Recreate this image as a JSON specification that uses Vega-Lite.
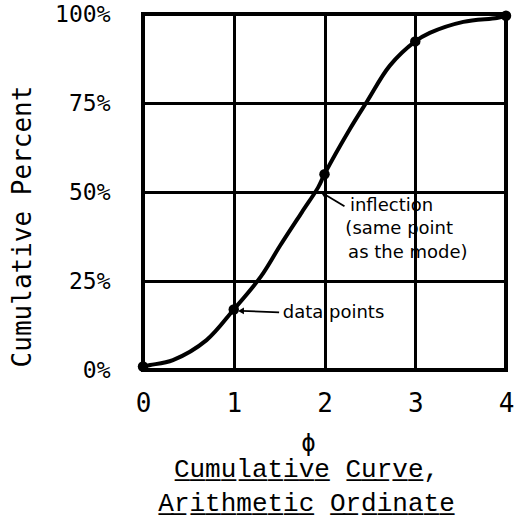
{
  "$schema": "https://vega.github.io/schema/vega-lite/v6.json",
  "width": 363,
  "height": 356,
  "autosize": "none",
  "padding": {"left": 143, "top": 14, "right": 11, "bottom": 153},
  "background": "white",
  "title": {
    "text": ["C\u0332u\u0332m\u0332u\u0332l\u0332a\u0332t\u0332i\u0332v\u0332e\u0332 C\u0332u\u0332r\u0332v\u0332e\u0332,", "A\u0332r\u0332i\u0332t\u0332h\u0332m\u0332e\u0332t\u0332i\u0332c\u0332 O\u0332r\u0332d\u0332i\u0332n\u0332a\u0332t\u0332e\u0332"],
    "orient": "bottom",
    "anchor": "middle",
    "font": "Liberation Mono",
    "fontSize": 26,
    "fontWeight": "normal",
    "lineHeight": 34,
    "color": "black",
    "offset": 1,
    "dx": -18
  },
  "datasets": {
    "curve": [
      {"phi": 0.0, "p": 1.0},
      {"phi": 0.08, "p": 1.4},
      {"phi": 0.33, "p": 2.8},
      {"phi": 0.7, "p": 8.4},
      {"phi": 1.0, "p": 17.0},
      {"phi": 1.3, "p": 26.3},
      {"phi": 1.51, "p": 34.9},
      {"phi": 1.75, "p": 44.3},
      {"phi": 1.93, "p": 51.3},
      {"phi": 2.0, "p": 55.0},
      {"phi": 2.28, "p": 67.7},
      {"phi": 2.47, "p": 75.5},
      {"phi": 2.72, "p": 85.5},
      {"phi": 3.0, "p": 92.3},
      {"phi": 3.16, "p": 94.7},
      {"phi": 3.53, "p": 97.8},
      {"phi": 3.9, "p": 98.9},
      {"phi": 4.0, "p": 99.5}
    ],
    "points": [
      {"phi": 0, "p": 1.0},
      {"phi": 1, "p": 17.0},
      {"phi": 2, "p": 55.0},
      {"phi": 3, "p": 92.3},
      {"phi": 4, "p": 99.5}
    ],
    "notes": [
      {"phi": 2.28, "p": 46.0, "label": "inflection"},
      {"phi": 2.23, "p": 39.5, "label": "(same point"},
      {"phi": 2.26, "p": 33.0, "label": "as the mode)"},
      {"phi": 1.54, "p": 16.0, "label": "data points"}
    ],
    "arrows": [
      {"phi": 2.22, "p": 46.0, "phi2": 1.99, "p2": 49.5},
      {"phi": 1.5, "p": 16.2, "phi2": 1.08, "p2": 16.6}
    ],
    "head1": [{"phi": 1.99, "p": 49.5}],
    "head2": [{"phi": 1.08, "p": 16.6}]
  },
  "layer": [
    {
      "data": {"name": "curve"},
      "mark": {"type": "line", "interpolate": "catmull-rom", "color": "black", "strokeWidth": 4},
      "encoding": {
        "x": {
          "field": "phi", "type": "quantitative",
          "scale": {"domain": [0, 4], "nice": false},
          "axis": {
            "values": [0, 1, 2, 3, 4],
            "format": "d",
            "title": "\u03d5",
            "titleFont": "DejaVu Sans Mono",
            "titleFontSize": 24,
            "titleFontWeight": "normal",
            "titleColor": "black",
            "titleX": 165,
            "titleY": 73,
            "titleBaseline": "middle",
            "labelFont": "DejaVu Sans Mono",
            "labelFontSize": 26,
            "labelColor": "black",
            "labelPadding": 20,
            "labelFlush": false,
            "ticks": false,
            "domain": false,
            "grid": true,
            "gridColor": "black",
            "gridWidth": 3,
            "gridOpacity": 1
          }
        },
        "y": {
          "field": "p", "type": "quantitative",
          "scale": {"domain": [0, 100], "nice": false},
          "axis": {
            "values": [0, 25, 50, 75, 100],
            "labelExpr": "datum.value + '%'",
            "title": "Cumulative Percent",
            "titleFont": "DejaVu Sans Mono",
            "titleFontSize": 26,
            "titleFontWeight": "normal",
            "titleColor": "black",
            "titleAngle": -90,
            "titleX": -121,
            "titleY": 212,
            "titleBaseline": "middle",
            "titleAlign": "center",
            "labelFont": "DejaVu Sans Mono",
            "labelFontSize": 23,
            "labelColor": "black",
            "labelPadding": 33,
            "labelBaseline": "middle",
            "ticks": false,
            "domain": false,
            "grid": true,
            "gridColor": "black",
            "gridWidth": 3,
            "gridOpacity": 1
          }
        }
      }
    },
    {
      "data": {"name": "points"},
      "mark": {"type": "point", "filled": true, "color": "black", "size": 110, "opacity": 1},
      "encoding": {
        "x": {"field": "phi", "type": "quantitative"},
        "y": {"field": "p", "type": "quantitative"}
      }
    },
    {
      "data": {"name": "arrows"},
      "mark": {"type": "rule", "color": "black", "strokeWidth": 1.8},
      "encoding": {
        "x": {"field": "phi", "type": "quantitative"},
        "y": {"field": "p", "type": "quantitative"},
        "x2": {"field": "phi2"},
        "y2": {"field": "p2"}
      }
    },
    {
      "data": {"name": "head1"},
      "mark": {"type": "point", "shape": "triangle-left", "filled": true, "color": "black", "size": 45, "angle": 28, "opacity": 1},
      "encoding": {
        "x": {"field": "phi", "type": "quantitative"},
        "y": {"field": "p", "type": "quantitative"}
      }
    },
    {
      "data": {"name": "head2"},
      "mark": {"type": "point", "shape": "triangle-left", "filled": true, "color": "black", "size": 45, "opacity": 1},
      "encoding": {
        "x": {"field": "phi", "type": "quantitative"},
        "y": {"field": "p", "type": "quantitative"}
      }
    },
    {
      "data": {"name": "notes"},
      "mark": {"type": "text", "align": "left", "baseline": "middle", "font": "DejaVu Sans", "fontSize": 18, "color": "black"},
      "encoding": {
        "x": {"field": "phi", "type": "quantitative"},
        "y": {"field": "p", "type": "quantitative"},
        "text": {"field": "label"}
      }
    }
  ],
  "config": {
    "view": {"stroke": "black", "strokeWidth": 4}
  }
}
